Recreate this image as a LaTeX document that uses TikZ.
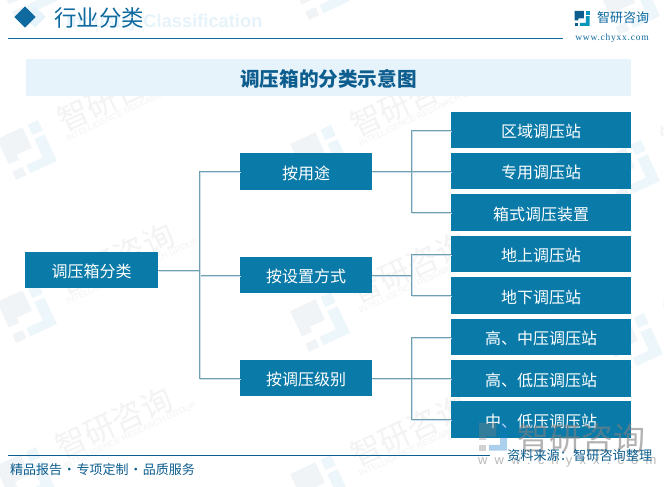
\documentclass[tikz,border=0pt]{standalone}
\usepackage{fontspec}
\setmainfont{Noto Sans CJK SC}
\newfontfamily\latinbold{Liberation Sans}
\newfontfamily\urlfont[LetterSpace=8]{Liberation Serif}
\newfontfamily\wwwfont[LetterSpace=55]{Liberation Sans}
\definecolor{boxblue}{HTML}{0A7AA8}
\definecolor{linec}{HTML}{6F9FB2}
\definecolor{shadowc}{HTML}{CFDFE7}
\definecolor{barblue}{HTML}{E6F3FA}
\definecolor{headblue}{HTML}{0F6AA0}
\definecolor{footblue}{HTML}{0D5E8F}
\definecolor{wmgray}{HTML}{F3F3F3}
\definecolor{wmdark}{HTML}{F1F4F7}
\definecolor{wmlight}{HTML}{ECF6FB}
\tikzset{
  flowbox/.style={fill=boxblue,text=white,inner sep=0pt,font=\fontsize{16}{16}\selectfont,anchor=center,text height=17pt,text depth=2pt},
  rootbox/.style={flowbox,minimum width=133pt,minimum height=36pt},
  midbox/.style={flowbox,minimum width=132pt,minimum height=36.5pt},
  leafbox/.style={flowbox,minimum width=180pt,minimum height=36.5pt},
  conn/.style={draw=linec,line width=1pt,preaction={draw=shadowc,line width=1pt,transform canvas={shift={(1pt,-1pt)}}}},
  wmtext/.style={text=wmgray,rotate=25,inner sep=0pt,anchor=center},
}
\newcommand\logomark[6]{%
  \begin{scope}[shift={(#1,#2)},rotate=#4,scale=#3,opacity=#6]
    \fill[#5] (-.5,-.5) -- (.12,-.5) -- (.12,0) -- (-.25,0) -- (-.25,.12) -- (-.5,.12) -- cycle;
    \fill[#5] (-.5,.3) rectangle (-.25,.5);
  \end{scope}}
\newcommand\logomarkb[6]{%
  \begin{scope}[shift={(#1,#2)},rotate=#4,scale=#3,opacity=#6]
    \fill[#5] (.25,-.5) rectangle (.5,-.25);
    \fill[#5] (.25,-.15) -- (.5,-.15) -- (.5,.5) -- (-.15,.5) -- (-.15,.3) -- (.25,.3) -- cycle;
  \end{scope}}
\newcommand\wm[2]{%
  \logomark{#1}{#2}{45}{25}{wmdark}{1}%
  \logomarkb{#1}{#2}{45}{25}{wmlight}{1}%
  \node[wmtext,font=\fontsize{31}{31}\selectfont] at ({#1+89},{#2-54}) {智研咨询};
  \node[wmtext,font=\latinbold\fontsize{8.5}{8.5}\selectfont] at ({#1+105},{#2-42}) {INTELLIGENCE RESEARCH GROUP};}
\begin{document}
\begin{tikzpicture}[x=1pt,y=-1pt]
\useasboundingbox (0,0) rectangle (664,487);
\fill[white] (0,0) rectangle (664,487);
% watermark
\wm{27}{-10}\wm{27}{150}\wm{27}{313}\wm{25}{477}
\wm{320}{-10}\wm{320}{155}\wm{320}{322}\wm{320}{485}
\wm{630}{5}\wm{630}{170}\wm{633}{343}
% header
\node[fill=barblue,minimum width=15pt,minimum height=15pt,rotate=45,inner sep=0pt] (dback) at (35,17) {};
\node[fill=headblue,minimum width=15pt,minimum height=15pt,rotate=45,inner sep=0pt] (dfront) at (25,17) {};
\node[text=barblue,inner sep=0pt,anchor=west,font=\latinbold\bfseries\fontsize{18.3}{18.3}\selectfont] (entitle) at (66,23) {Industry Classification};
\node[text=headblue,inner sep=0pt,anchor=west,font=\fontsize{22.5}{22.5}\selectfont] (maintitle) at (54,17.5) {行业分类};
\coordinate (hl) at (8,38.5);
\coordinate (hr) at (563,38.5);
\draw[headblue,line width=1pt] (hl) -- (hr);
\logomark{582}{18.5}{15}{0}{footblue}{1}
\logomarkb{582}{18.5}{15}{0}{headblue!70!cyan}{1}
\node[text=headblue,inner sep=0pt,font=\fontsize{13}{13}\selectfont] (brand) at (623,18) {智研咨询};
\node[text=headblue,inner sep=0pt,font=\urlfont\fontsize{9.5}{9.5}\selectfont] (url) at (612,38) {www.chyxx.com};
% title bar
\node[fill=barblue,minimum width=605pt,minimum height=37pt,inner sep=0pt,text=footblue,font=\bfseries\fontsize{19.6}{19.6}\selectfont,text height=20pt,text depth=2pt] (titlebar) at (328.5,77.5) {调压箱的分类示意图};
% boxes
\node[rootbox] (root) at (91.5,270) {调压箱分类};
\node[midbox] (m1) at (306,171.5) {按用途};
\node[midbox] (m2) at (306,275) {按设置方式};
\node[midbox] (m3) at (306,378) {按调压级别};
\node[leafbox] (r1) at (541,130) {区域调压站};
\node[leafbox] (r2) at (541,171) {专用调压站};
\node[leafbox] (r3) at (541,212.5) {箱式调压装置};
\node[leafbox] (r4) at (541,254) {地上调压站};
\node[leafbox] (r5) at (541,295.5) {地下调压站};
\node[leafbox] (r6) at (541,337) {高、中压调压站};
\node[leafbox] (r7) at (541,378.5) {高、低压调压站};
\node[leafbox] (r8) at (541,419.5) {中、低压调压站};
% connectors
\coordinate (t0) at (199,270);
\coordinate (j1) at (411.5,171.5);
\coordinate (j2) at (411.5,275);
\coordinate (j3) at (411.5,378);
\draw[conn] (root.east) -- (t0);
\draw[conn] (t0) |- (m1.west);
\draw[conn] (t0) |- (m2.west);
\draw[conn] (t0) |- (m3.west);
\draw[conn] (m1.east) -- (j1);
\draw[conn] (m2.east) -- (j2);
\draw[conn] (m3.east) -- (j3);
\draw[conn] (j1) |- (r1.west);
\draw[conn] (j1) |- (r2.west);
\draw[conn] (j1) |- (r3.west);
\draw[conn] (j2) |- (r4.west);
\draw[conn] (j2) |- (r5.west);
\draw[conn] (j3) |- (r6.west);
\draw[conn] (j3) |- (r7.west);
\draw[conn] (j3) |- (r8.west);
% bottom-right mark
\logomark{493}{436.5}{28}{0}{gray}{.35}
\logomarkb{493}{436.5}{28}{0}{cyan!60!blue}{.35}
\node[text=gray,opacity=.6,inner sep=0pt,font=\fontsize{32}{32}\selectfont] (brandb) at (581,438) {智研咨询};
\node[text=gray,opacity=.55,inner sep=0pt,anchor=west,font=\wwwfont\fontsize{13}{13}\selectfont] (wwwb) at (478,461) {www.chyxx.com};
% footer
\coordinate (fl) at (8,455);
\coordinate (fr) at (490,455);
\draw[footblue,line width=1pt] (fl) -- (fr);
\node[text=footblue,inner sep=0pt,anchor=west,font=\fontsize{13}{13}\selectfont] (slogan) at (10,470) {精品报告\hspace{.7pt}·\hspace{.7pt}专项定制\hspace{.7pt}·\hspace{.7pt}品质服务};
\node[text=footblue,inner sep=0pt,anchor=east,font=\fontsize{13.2}{13.2}\selectfont] (source) at (652.5,456) {资料来源：智研咨询整理};
\end{tikzpicture}
\end{document}
